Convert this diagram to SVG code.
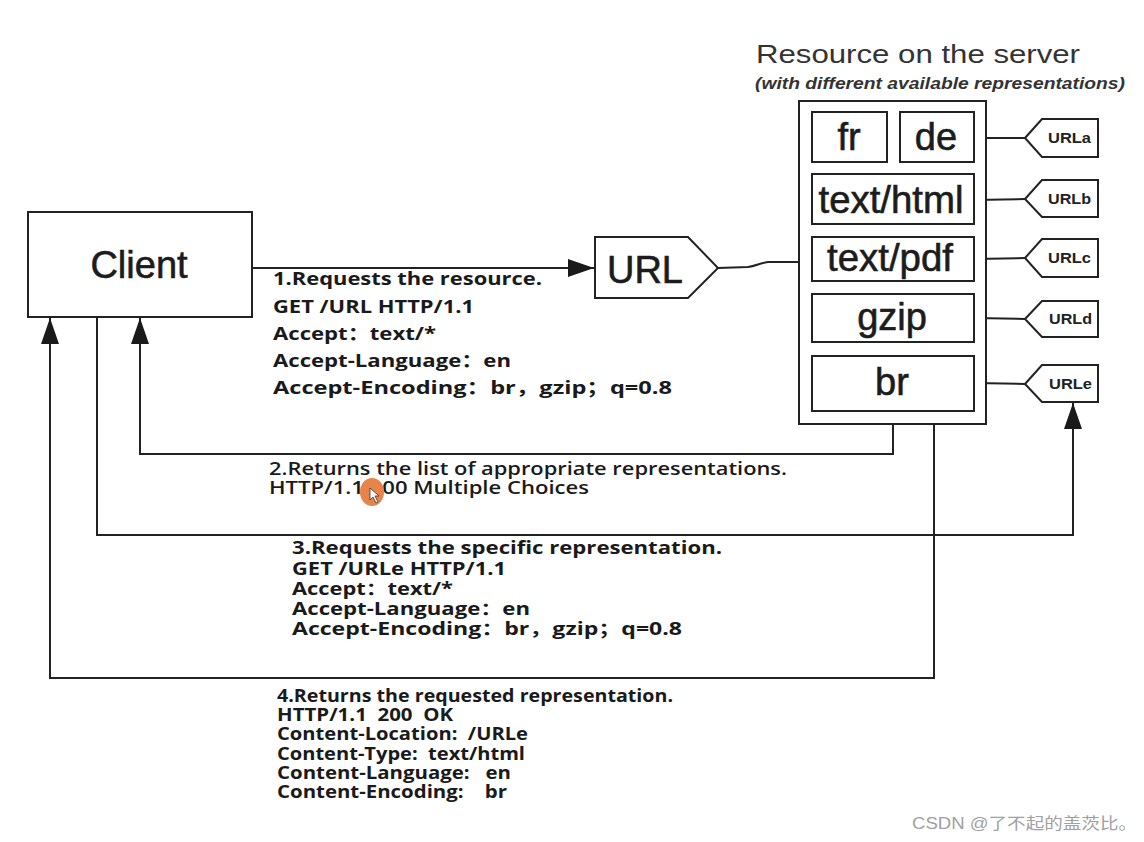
<svg xmlns="http://www.w3.org/2000/svg" width="1144" height="842" viewBox="0 0 1144 842">
<defs>
<style>
.box{fill:#fff;stroke:#222;stroke-width:2}
.ln{fill:none;stroke:#222;stroke-width:2}
.big{font-family:"Liberation Sans",Arial,sans-serif;font-size:38px;fill:#1c1c1c;stroke:#1c1c1c;stroke-width:0.6;text-anchor:middle}
.tag{font-family:"Liberation Sans",Arial,sans-serif;font-size:15px;font-weight:700;fill:#222}
.desc{font-family:"Open Sans","Noto Sans","Noto Sans CJK SC",sans-serif;font-weight:700;fill:#1a1a1a}
.d1{font-size:18px}
.d3{font-size:17.5px}
.d4{font-size:17px}
.d2{font-size:18.5px;font-weight:600}
</style>
<marker id="ah" markerUnits="userSpaceOnUse" markerWidth="28" markerHeight="20" refX="26" refY="9" orient="auto">
<path d="M0,0 L26,9 L0,18 z" fill="#1a1a1a"/>
</marker>
</defs>
<rect width="1144" height="842" fill="#fff"/>

<g id="connectors">
<line class="ln" x1="252" y1="268" x2="594" y2="268" marker-end="url(#ah)"/>
<path class="ln" d="M718,268 L748,267 C756,266 760,263 768,262 L798,262"/>
<polyline class="ln" points="893,424 893,454 140,454 140,318" marker-end="url(#ah)"/>
<polyline class="ln" points="97,317 97,535 1073,535 1073,403" marker-end="url(#ah)"/>
<polyline class="ln" points="934,411 934,678 50,678 50,318" marker-end="url(#ah)"/>
<line class="ln" x1="974" y1="138" x2="1025" y2="138"/>
<line class="ln" x1="974" y1="200" x2="1025" y2="199"/>
<line class="ln" x1="974" y1="259" x2="1025" y2="258"/>
<line class="ln" x1="974" y1="318" x2="1025" y2="319"/>
<line class="ln" x1="974" y1="383" x2="1025" y2="384"/>
</g>

<g id="client">
<rect class="box" x="28" y="212" width="224" height="105"/>
<text class="big" x="139" y="278" stroke-width="0.3">Client</text>
</g>

<g id="url">
<path class="box" d="M595,237 L688,237 L718,268 L688,298 L595,298 z"/>
<text class="big" x="645" y="283" textLength="76" lengthAdjust="spacingAndGlyphs" stroke-width="0.3">URL</text>
</g>

<g id="server-title">
<text x="756" y="63" font-family="Liberation Sans,Arial,sans-serif" font-size="26" fill="#333" textLength="324" lengthAdjust="spacingAndGlyphs">Resource on the server</text>
<text x="755" y="89" font-family="Liberation Sans,Arial,sans-serif" font-size="17" font-style="italic" font-weight="700" fill="#333" textLength="370" lengthAdjust="spacingAndGlyphs">(with different available representations)</text>
</g>

<g id="server">
<rect class="box" x="799" y="101" width="187" height="323"/>
</g>
<g id="rep-fr">
<rect class="box" x="812" y="112" width="75" height="50"/>
<text class="big" x="849" y="150">fr</text>
</g>
<g id="rep-de">
<rect class="box" x="900" y="112" width="74" height="50"/>
<text class="big" x="936" y="150">de</text>
</g>
<g id="rep-html">
<rect class="box" x="812" y="174" width="162" height="50"/>
<text class="big" x="891" y="213" textLength="145" lengthAdjust="spacingAndGlyphs">text/html</text>
</g>
<g id="rep-pdf">
<rect class="box" x="812" y="237" width="162" height="44"/>
<text class="big" x="890" y="271" textLength="126" lengthAdjust="spacingAndGlyphs">text/pdf</text>
</g>
<g id="rep-gzip">
<rect class="box" x="812" y="294" width="162" height="48"/>
<text class="big" x="892" y="330">gzip</text>
</g>
<g id="rep-br">
<rect class="box" x="812" y="356" width="162" height="55"/>
<text class="big" x="892" y="395">br</text>
</g>

<g id="urla">
<path class="box" d="M1025,138 L1042,119 L1098,119 L1098,157 L1042,157 z"/>
<text class="tag" x="1048" y="143" textLength="43" lengthAdjust="spacingAndGlyphs">URLa</text>
</g>
<g id="urlb">
<path class="box" d="M1025,199 L1042,180 L1098,180 L1098,217 L1042,217 z"/>
<text class="tag" x="1048" y="204" textLength="43" lengthAdjust="spacingAndGlyphs">URLb</text>
</g>
<g id="urlc">
<path class="box" d="M1025,258 L1042,239 L1098,239 L1098,277 L1042,277 z"/>
<text class="tag" x="1048" y="263" textLength="43" lengthAdjust="spacingAndGlyphs">URLc</text>
</g>
<g id="urld">
<path class="box" d="M1025,319 L1042,301 L1098,301 L1098,337 L1042,337 z"/>
<text class="tag" x="1049" y="324" textLength="43" lengthAdjust="spacingAndGlyphs">URLd</text>
</g>
<g id="urle">
<path class="box" d="M1025,384 L1042,365 L1098,365 L1098,402 L1042,402 z"/>
<text class="tag" x="1049" y="389" textLength="43" lengthAdjust="spacingAndGlyphs">URLe</text>
</g>

<g id="label-1" class="desc d1">
<text x="273" y="285" textLength="269" lengthAdjust="spacingAndGlyphs">1.Requests the resource.</text>
<text x="273" y="313" textLength="201" lengthAdjust="spacingAndGlyphs">GET /URL HTTP/1.1</text>
<text x="273" y="340" textLength="163" lengthAdjust="spacingAndGlyphs">Accept：text/*</text>
<text x="273" y="367" textLength="238" lengthAdjust="spacingAndGlyphs">Accept-Language：en</text>
<text x="273" y="394" textLength="399" lengthAdjust="spacingAndGlyphs">Accept-Encoding：br，gzip；q=0.8</text>
</g>

<g id="label-2" class="desc d2">
<text x="269" y="475" textLength="518" lengthAdjust="spacingAndGlyphs">2.Returns the list of appropriate representations.</text>
<text x="269" y="494" textLength="320" lengthAdjust="spacingAndGlyphs">HTTP/1.1 300 Multiple Choices</text>
</g>
<ellipse cx="372" cy="492" rx="12" ry="14" fill="#e8844a"/>
<path d="M370,488 L370,500 L373,497 L376,503 L378,502 L375,496 L379,496 z" fill="#fff" stroke="#333" stroke-width="0.8"/>

<g id="label-3" class="desc d3">
<text x="292" y="554" textLength="430" lengthAdjust="spacingAndGlyphs">3.Requests the specific representation.</text>
<text x="292" y="575" textLength="214" lengthAdjust="spacingAndGlyphs">GET /URLe HTTP/1.1</text>
<text x="292" y="595" textLength="161" lengthAdjust="spacingAndGlyphs">Accept：text/*</text>
<text x="292" y="615" textLength="238" lengthAdjust="spacingAndGlyphs">Accept-Language：en</text>
<text x="292" y="635" textLength="390" lengthAdjust="spacingAndGlyphs">Accept-Encoding：br，gzip；q=0.8</text>
</g>

<g id="label-4" class="desc d4">
<text x="277" y="702" textLength="396" lengthAdjust="spacingAndGlyphs">4.Returns the requested representation.</text>
<text x="277" y="721" textLength="176" lengthAdjust="spacingAndGlyphs" xml:space="preserve">HTTP/1.1  200  OK</text>
<text x="277" y="740" textLength="251" lengthAdjust="spacingAndGlyphs" xml:space="preserve">Content-Location:  /URLe</text>
<text x="277" y="760" textLength="248" lengthAdjust="spacingAndGlyphs" xml:space="preserve">Content-Type:  text/html</text>
<text x="277" y="779" textLength="234" lengthAdjust="spacingAndGlyphs" xml:space="preserve">Content-Language:   en</text>
<text x="277" y="798" textLength="230" lengthAdjust="spacingAndGlyphs" xml:space="preserve">Content-Encoding:    br</text>
</g>

<text x="912" y="829" font-family="Liberation Sans,Arial,'Noto Sans CJK SC',sans-serif" font-size="16" fill="#a0a0a0" textLength="225" lengthAdjust="spacingAndGlyphs">CSDN @了不起的盖茨比。</text>
</svg>
